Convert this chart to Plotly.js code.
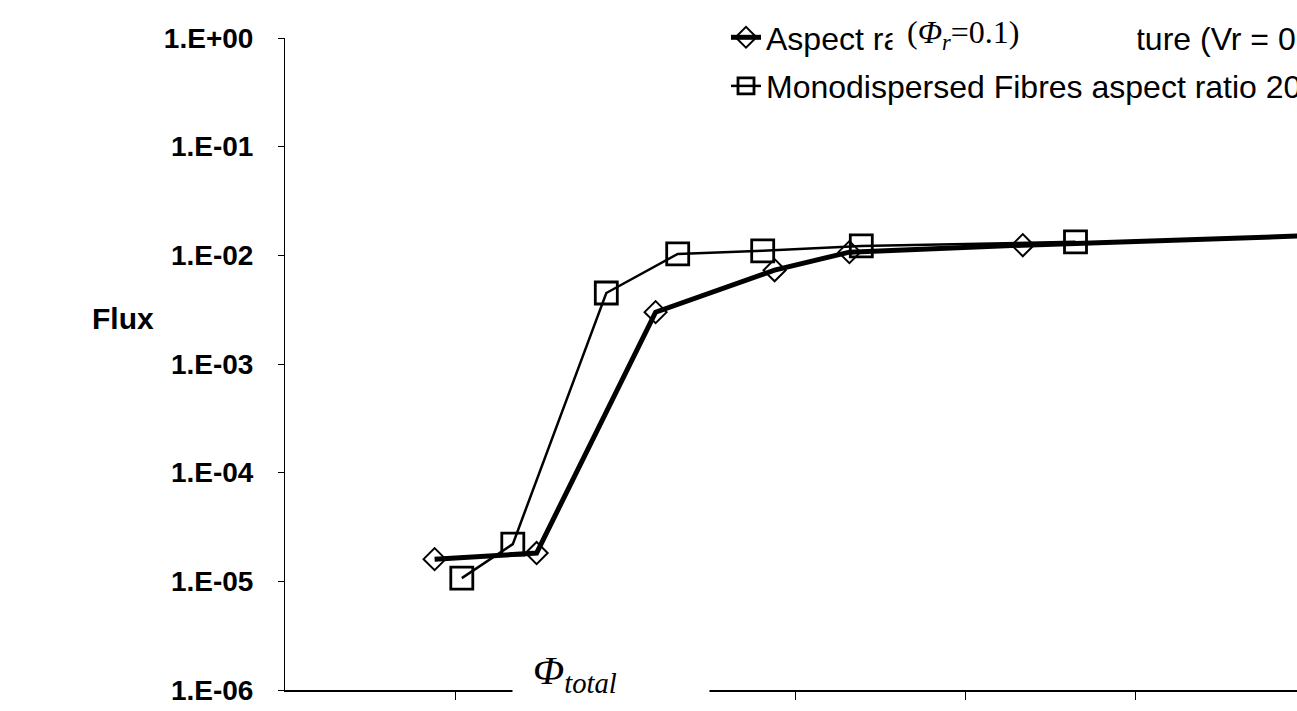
<!DOCTYPE html>
<html><head><meta charset="utf-8">
<script src="https://cdn.plot.ly/plotly-3.0.1.min.js"></script>
<style>html,body{margin:0;padding:0;background:#fff;} #chart{width:1297px;height:711px;}</style>
</head><body><div id="chart"></div>
<script>
// Data (x in volume fraction units, y = flux)
const mixX = [0.088, 0.148, 0.218, 0.288, 0.332, 0.434, 0.62];
const mixY = [1.6e-5, 1.82e-5, 3.0e-3, 7.3e-3, 1.07e-2, 1.24e-2, 1.55e-2];
const monoX = [0.104, 0.134, 0.189, 0.231, 0.281, 0.339, 0.465];
const monoY = [1.07e-5, 2.2e-5, 4.5e-3, 1.03e-2, 1.1e-2, 1.22e-2, 1.33e-2];
const yTickVals = [1e-6, 1e-5, 1e-4, 1e-3, 1e-2, 1e-1, 1];
const yTickText = ['1.E-06', '1.E-05', '1.E-04', '1.E-03', '1.E-02', '1.E-01', '1.E+00'];
const xTickVals = [0.1, 0.2, 0.3, 0.4, 0.5];
const seriesNames = ['Aspect ratio 10 to 100 mixture (Vr = 0.1)', 'Monodispersed Fibres aspect ratio 20'];
const yTitle = 'Flux';
const xTitle = '<i>Φ<sub>total</sub></i>';
const overlayText = '(<i>Φ<sub>r</sub></i>=0.1)';

// layout helpers (pixel -> paper)
const L = 285, T = 38, W = 1012, H = 652;
const px = v => (v - L) / W;
const py = v => (T + H - v) / H;

const traces = [
  {
    x: monoX, y: monoY, name: seriesNames[1], type: 'scatter', mode: 'lines+markers',
    line: {color: '#000', width: 2.5},
    marker: {symbol: 'square-open', size: 22, color: '#000', line: {width: 2.8, color: '#000'}},
    legendrank: 2, legendgroup: 'b'
  },
  {
    x: mixX, y: mixY, name: seriesNames[0], type: 'scatter', mode: 'lines+markers',
    line: {color: '#000', width: 5},
    marker: {symbol: 'diamond-open', size: 17, color: '#000', line: {width: 2, color: '#000'}},
    legendrank: 1, legendgroup: 'a'
  }
];

const layout = {
  width: 1297, height: 711,
  margin: {l: L, r: 0, t: T, b: 711 - T - H, autoexpand: false},
  paper_bgcolor: '#fff', plot_bgcolor: '#fff',
  showlegend: true,
  hovermode: false,
  legend: {
    x: px(726), y: py(10), xanchor: 'left', yanchor: 'top',
    font: {family: 'Liberation Sans, Arial, sans-serif', size: 32, color: '#000'},
    bgcolor: 'rgba(0,0,0,0)', borderwidth: 0,
    traceorder: 'grouped', tracegroupgap: 4
  },
  xaxis: {
    range: [0, 1012 / 1700], showgrid: false, zeroline: false,
    showline: true, linecolor: '#000', linewidth: 1.5,
    ticks: 'outside', ticklen: 8, tickwidth: 1, tickcolor: '#000',
    tickvals: xTickVals, showticklabels: false
  },
  yaxis: {
    type: 'log', range: [-6, 0], showgrid: false, zeroline: false,
    showline: true, linecolor: '#000', linewidth: 1,
    ticks: 'outside', ticklen: 6, tickwidth: 1, tickcolor: '#000',
    tickvals: yTickVals, ticktext: yTickText, ticklabelstandoff: 19,
    tickfont: {family: 'Liberation Sans, Arial, sans-serif', size: 28, color: '#000', weight: 'bold'}
  },
  annotations: [
    {
      xref: 'paper', yref: 'paper', x: px(123), y: py(318), xanchor: 'center', yanchor: 'middle',
      text: '<b>' + yTitle + '</b>', showarrow: false,
      font: {family: 'Liberation Sans, Arial, sans-serif', size: 30, color: '#000'}
    },
    {
      xref: 'paper', yref: 'paper', x: px(512), y: py(640), xanchor: 'left', yanchor: 'top',
      text: '\u00a0', showarrow: false, width: 196, height: 62, bgcolor: '#fff', borderpad: 0
    },
    {
      xref: 'paper', yref: 'paper', x: px(531), y: py(645), xanchor: 'left', yanchor: 'top',
      text: xTitle, showarrow: false,
      font: {family: 'Liberation Serif, Times New Roman, serif', size: 41, color: '#000'}
    },
    {
      xref: 'paper', yref: 'paper', x: px(892), y: py(10), xanchor: 'left', yanchor: 'top',
      text: '\u00a0', showarrow: false, width: 244, height: 50, bgcolor: '#fff', borderpad: 0
    },
    {
      xref: 'paper', yref: 'paper', x: px(905), y: py(12), xanchor: 'left', yanchor: 'top',
      text: overlayText, showarrow: false,
      font: {family: 'Liberation Serif, Times New Roman, serif', size: 32, color: '#000'}
    }
  ]
};

Plotly.newPlot('chart', traces, layout, {displayModeBar: false, staticPlot: true});
</script>
</body></html>
